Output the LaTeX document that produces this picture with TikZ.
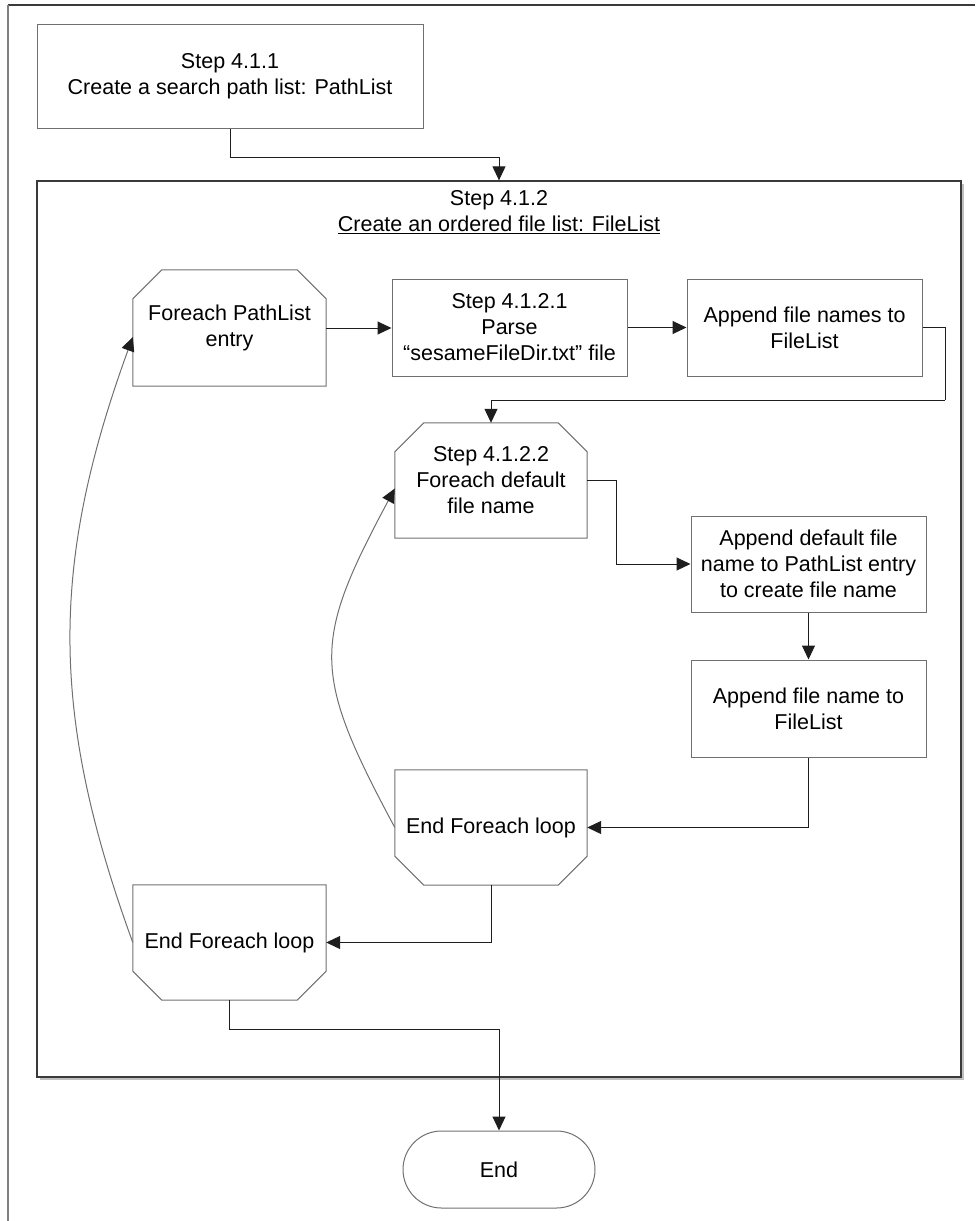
\documentclass[tikz,border=0pt]{standalone}
\usepackage{fontspec}
\setmainfont{Liberation Sans}
\usetikzlibrary{arrows.meta,shapes.misc}

\definecolor{boxline}{HTML}{707070}
\definecolor{connline}{HTML}{1E1E1E}
\definecolor{frameline}{HTML}{3A3A3A}
\definecolor{edgeline}{HTML}{808080}

% outline of a loop-start block: upper corners cut off
\newcommand\topcutoutline[1]{%
  \draw[shapeline] (#1.south west) -- ([yshift=-29pt]#1.north west)
    -- ([xshift=29pt]#1.north west) -- ([xshift=-29pt]#1.north east)
    -- ([yshift=-29pt]#1.north east) -- (#1.south east) -- cycle;}
% outline of a loop-end block: lower corners cut off
\newcommand\bottomcutoutline[1]{%
  \draw[shapeline] (#1.north west) -- ([yshift=29pt]#1.south west)
    -- ([xshift=29pt]#1.south west) -- ([xshift=-29pt]#1.south east)
    -- ([yshift=29pt]#1.south east) -- (#1.north east) -- cycle;}

\begin{document}
\begin{tikzpicture}[x=1pt,y=-1pt,
  lbl/.style={font=\fontsize{21.5pt}{26pt}\selectfont, align=center, inner sep=0pt},
  shapeline/.style={draw=boxline, line width=1pt},
  stepbox/.style={lbl, shapeline, rectangle},
  loopbox/.style={lbl, rectangle, draw=none},
  arr/.style={draw=connline, line width=1pt, -{Triangle[length=14pt,width=13pt,color=connline]}},
  wire/.style={draw=connline, line width=1pt}]

\useasboundingbox (0,0) rectangle (975,1221);

% page frame (top and left edges only)
\draw[frameline, line width=1.5pt] (8,5) -- (975,5);
\draw[edgeline, line width=2pt] (8,5) -- (8,1221);

% group box of step 4.1.2, with a faint drop shadow
\draw[black!25, line width=1.3pt] (40,1079) -- (963,1079) -- (963,184);
\node[draw=frameline, line width=1.3pt, rectangle, minimum width=924, minimum height=896, inner sep=0pt] (grp) at (499,629) {};
\node[lbl] (ttl) at (499,212) {Step 4.1.2\\\underline{Create an ordered file list: FileList}};

% blocks
\node[stepbox, minimum width=386, minimum height=104] (s411) at (230,76) {Step 4.1.1\\Create a search path list: PathList};
\node[loopbox, minimum width=193, minimum height=116] (fe1) at (229.5,328) {Foreach PathList\\entry};
\node[stepbox, minimum width=235, minimum height=97] (s4121) at (509.5,327.5) {Step 4.1.2.1\\Parse\\“sesameFileDir.txt” file};
\node[stepbox, minimum width=235, minimum height=97] (ap1) at (804.5,327.5) {Append file names to\\FileList};
\node[loopbox, minimum width=192, minimum height=115] (fe2) at (491,480.5) {Step 4.1.2.2\\Foreach default\\file name};
\node[stepbox, minimum width=235, minimum height=96] (ap2) at (808.5,564) {Append default file\\name to PathList entry\\to create file name};
\node[stepbox, minimum width=235, minimum height=97] (ap3) at (808.5,708.5) {Append file name to\\FileList};
\node[loopbox, minimum width=192, minimum height=115] (end1) at (491,827.5) {End Foreach loop};
\node[loopbox, minimum width=193, minimum height=115] (end2) at (229.5,942.5) {End Foreach loop};
\node[lbl, shapeline, rounded rectangle, minimum width=192, minimum height=77] (term) at (499,1169.5) {End};

\topcutoutline{fe1}
\topcutoutline{fe2}
\bottomcutoutline{end1}
\bottomcutoutline{end2}

% connectors
\coordinate (k1) at (945,400);
\draw[arr] (s411.south) -- ++(0,29) -| (grp.north);
\draw[arr] (fe1.east) -- (fe1.east -| s4121.west);
\draw[arr] (s4121.east) -- (ap1.west);
\draw[wire] (ap1.east) -| (k1);
\draw[arr] (k1) -| (fe2.north);
\draw[arr] (fe2.east) -- ++(29,0) |- (ap2.west);
\draw[arr] (ap2.south) -- (ap3.north);
\draw[arr] (ap3.south) |- (end1.east);
\draw[arr] (end1.south) |- (end2.east);
\draw[arr] (end2.south) -- ++(0,29) -| (term.north);

% loop-back curves
\draw[arr, draw=boxline] (end1.west) .. controls +(-83,-155) and +(-83,155) .. ([yshift=-8pt]fe2.west);
\draw[arr, draw=boxline] (end2.west) .. controls +(-83,-228) and +(-83,228) .. ([yshift=-9pt]fe1.west);
\end{tikzpicture}
\end{document}
